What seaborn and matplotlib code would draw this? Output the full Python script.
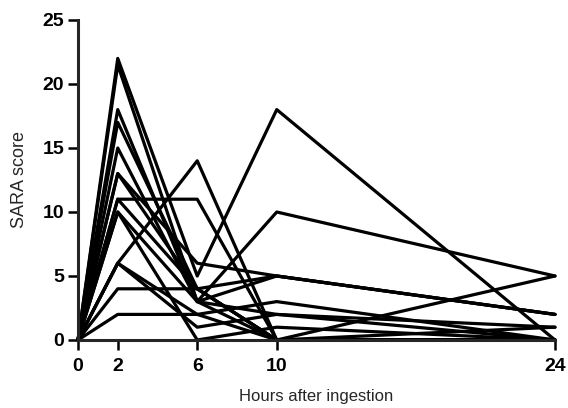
import numpy as np
import pandas as pd
import matplotlib
matplotlib.use('Agg')
import matplotlib.pyplot as plt
import seaborn as sns

# 采样时间点 (小时)
hours = [0, 2, 6, 10, 24]

# 每个受试者的 SARA 评分
s01 = [0, 22, 5, 18, 0]
s02 = [0, 21.5, 3, 0, 0]
s03 = [0, 18, 3, 2, 0]
s04 = [0, 17, 4, 0, 1]
s05 = [0, 15, 3, 5, 2]
s06 = [0, 13, 6, 5, 2]
s07 = [0, 13, 4, 0, 0]
s08 = [0, 11, 11, 0, 0]
s09 = [0, 11, 4, 0, 0]
s10 = [0, 10, 3, 10, 5]
s11 = [0, 10, 0, 1, 0]
s12 = [0, 6, 14, 0, 0]
s13 = [0, 6, 2, 0, 5]
s14 = [0, 6, 1, 2, 1]
s15 = [0, 4, 4, 5, 2]
s16 = [0, 2, 2, 3, 0]

subjects = [s01, s02, s03, s04, s05, s06, s07, s08,
            s09, s10, s11, s12, s13, s14, s15, s16]

rows = []
for i, scores in enumerate(subjects):
    for h, v in zip(hours, scores):
        rows.append({'subject': i, 'hour': h, 'score': v})
df = pd.DataFrame(rows)

sns.set_style('ticks')
plt.rcParams['font.family'] = ['Liberation Sans', 'DejaVu Sans']

fig = plt.figure(figsize=(5.68, 4.08), dpi=100)
ax = fig.add_axes([78 / 568, 68 / 408, 477 / 568, 320 / 408])

sns.lineplot(data=df, x='hour', y='score', units='subject', estimator=None,
             color='black', linewidth=2.3, ax=ax, legend=False)
for ln in ax.lines:
    ln.set_clip_on(False)

ax.set_xlim(0, 24)
ax.set_ylim(0, 25)
ax.set_xticks(hours)
ax.set_yticks([0, 5, 10, 15, 20, 25])
sns.despine(ax=ax)
for sp in ['left', 'bottom']:
    ax.spines[sp].set_linewidth(2.2)
ax.tick_params(axis='both', width=1.8, length=7, direction='out',
               labelsize=14, colors='black')
ax.tick_params(axis='x', pad=6)
ax.tick_params(axis='y', pad=3)
for lab in ax.get_xticklabels() + ax.get_yticklabels():
    lab.set_fontweight('bold')

ax.set_xlabel('Hours after ingestion', fontsize=12, labelpad=10)
ax.set_ylabel('SARA score', fontsize=13, labelpad=10)

fig.savefig('out.png', dpi=100)
